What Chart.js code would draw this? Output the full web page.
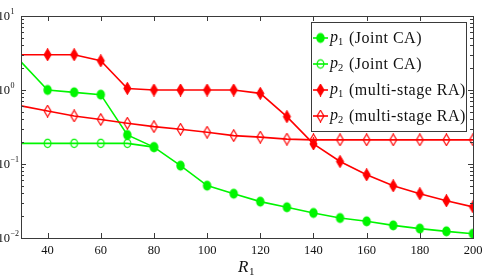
<!DOCTYPE html>
<html>
<head>
<meta charset="utf-8">
<script src="https://cdn.jsdelivr.net/npm/chart.js@4.4.1/dist/chart.umd.min.js"></script>
<style>
  html, body { margin: 0; padding: 0; background: #fff; }
  canvas { display: block; }
</style>
</head>
<body>
<canvas id="chart" width="485" height="277"></canvas>
<script>
// x values (R1)
var R1 = [30, 40, 50, 60, 70, 80, 90, 100, 110, 120, 130, 140, 150, 160, 170, 180, 190, 200];

// series
var p1JointCA = [2.4, 1.0, 0.93, 0.865, 0.247, 0.169, 0.095, 0.051, 0.0397, 0.031, 0.026, 0.0218, 0.0186, 0.0168, 0.0148, 0.0134, 0.0123, 0.0114];
var p2JointCA = [0.19, 0.19, 0.19, 0.19, 0.19, 0.169, null, null, null, null, null, null, null, null, null, null, null, null];
var p1MultiRA = [3.0, 3.0, 3.0, 2.48, 1.05, 1.0, 1.0, 1.0, 1.0, 0.9, 0.436, 0.187, 0.108, 0.0715, 0.0508, 0.0397, 0.0319, 0.0263];
var p2MultiRA = [0.61, 0.52, 0.446, 0.4, 0.356, 0.32, 0.295, 0.269, 0.242, 0.231, 0.217, 0.212, 0.212, 0.212, 0.212, 0.212, 0.212, 0.212];

var legendSub = ['1', '2', '1', '2'];
var legendText = ['(Joint CA)', '(Joint CA)', '(multi-stage RA)', '(multi-stage RA)'];

var xTicks = [40, 60, 80, 100, 120, 140, 160, 180, 200];
var yDecades = [-2, -1, 0, 1];

var GREEN = 'rgb(0, 245, 0)';
var RED = 'rgb(255, 0, 0)';
var SERIF = "'Liberation Serif', 'DejaVu Serif', serif";

// markers (slightly taller than wide, like the original)
function marker(kind, color) {
  var c = document.createElement('canvas');
  var w = 11, h = 13;
  c.width = w; c.height = h;
  var g = c.getContext('2d');
  var cx = w / 2, cy = h / 2;
  g.strokeStyle = color;
  g.fillStyle = color;
  g.lineWidth = 1.2;
  g.beginPath();
  if (kind === 'dot') {
    g.ellipse(cx, cy, 4.2, 5, 0, 0, Math.PI * 2);
    g.fill();
  } else if (kind === 'ring') {
    g.ellipse(cx, cy, 3.4, 4.2, 0, 0, Math.PI * 2);
    g.stroke();
  } else {
    g.moveTo(cx, 0.8);
    g.lineTo(cx + 3.4, cy);
    g.lineTo(cx, h - 0.8);
    g.lineTo(cx - 3.4, cy);
    g.closePath();
    if (kind === 'diamondFilled') g.fill();
    g.stroke();
  }
  return c;
}

var markers = [
  marker('dot', GREEN),
  marker('ring', GREEN),
  marker('diamondFilled', RED),
  marker('diamondOpen', RED)
];

function pts(vals) {
  return R1.map(function (r, i) { return { x: r, y: vals[i] }; });
}

function ds(vals, color, mk, order) {
  return {
    data: pts(vals),
    borderColor: color,
    backgroundColor: color,
    borderWidth: 1.6,
    pointStyle: function (ctx) { return ctx.dataIndex === 0 ? false : mk; },
    order: order,
    spanGaps: false
  };
}

var frame = {
  id: 'frame',
  afterDatasetsDraw: function (chart) {
    var c = chart.ctx, a = chart.chartArea;
    var xs = chart.scales.x, ys = chart.scales.y;
    c.save();
    c.strokeStyle = '#3a3a3a';
    c.lineWidth = 1;
    c.strokeRect(a.left + 0.5, a.top + 0.5, a.right - a.left, a.bottom - a.top);

    // x ticks (bottom and top, pointing inwards)
    c.beginPath();
    xTicks.forEach(function (t) {
      var px = Math.round(xs.getPixelForValue(t)) + 0.5;
      c.moveTo(px, a.bottom); c.lineTo(px, a.bottom - 5);
      c.moveTo(px, a.top); c.lineTo(px, a.top + 5);
    });
    // y ticks, major and minor
    yDecades.forEach(function (d) {
      for (var m = 1; m <= 9; m++) {
        if (d === 1 && m > 1) break;
        var v = m * Math.pow(10, d);
        var py = Math.round(ys.getPixelForValue(v)) + 0.5;
        var len = m === 1 ? 5 : 3;
        c.moveTo(a.left, py); c.lineTo(a.left + len, py);
        c.moveTo(a.right, py); c.lineTo(a.right - len, py);
      }
    });
    c.stroke();

    // x tick labels
    c.fillStyle = '#111';
    c.font = '12.5px ' + SERIF;
    c.textAlign = 'center';
    c.textBaseline = 'alphabetic';
    xTicks.forEach(function (t) {
      c.fillText(String(t), xs.getPixelForValue(t), 254);
    });

    // y tick labels 10^d
    yDecades.forEach(function (d) {
      var py = ys.getPixelForValue(Math.pow(10, d));
      c.font = '12.5px ' + SERIF;
      c.textAlign = 'right';
      c.fillText('10', 10, py + 4);
      c.font = '8px ' + SERIF;
      c.textAlign = 'left';
      c.fillText(d < 0 ? '\u2212' + (-d) : String(d), 10.5, py - 2);
    });

    // x axis title
    c.textAlign = 'left';
    c.font = 'italic 17px ' + SERIF;
    c.fillText('R', 238, 272);
    c.font = '11px ' + SERIF;
    c.fillText('1', 249, 275);

    // legend
    var lx = 311, ly = 22, lw = 155, lh = 109;
    c.fillStyle = '#fff';
    c.fillRect(lx, ly, lw, lh);
    c.strokeStyle = '#3a3a3a';
    c.strokeRect(lx + 0.5, ly + 0.5, lw, lh);
    var rows = [38, 64, 90, 116];
    chart.data.datasets.forEach(function (set, i) {
      var y = rows[i];
      c.strokeStyle = set.borderColor;
      c.lineWidth = 1.6;
      c.beginPath();
      c.moveTo(313, y); c.lineTo(328, y);
      c.stroke();
      var mk = markers[i];
      c.drawImage(mk, 320.5 - mk.width / 2, y - mk.height / 2);
      c.fillStyle = '#111';
      c.font = 'italic 16px ' + SERIF;
      c.fillText('p', 330, y + 4);
      c.font = '10.5px ' + SERIF;
      c.fillText(legendSub[i], 338, y + 7);
      c.font = '16px ' + SERIF;
      c.letterSpacing = '0.5px';
      c.fillText(legendText[i], 349, y + 5);
      c.letterSpacing = '0px';
    });
    c.restore();
  }
};

new Chart(document.getElementById('chart'), {
  type: 'line',
  data: {
    datasets: [
      ds(p1JointCA, GREEN, markers[0], 4),
      ds(p2JointCA, GREEN, markers[1], 3),
      ds(p1MultiRA, RED, markers[2], 2),
      ds(p2MultiRA, RED, markers[3], 1)
    ]
  },
  options: {
    responsive: false,
    animation: false,
    devicePixelRatio: 1,
    layout: { padding: { left: 21, top: 16, right: 12, bottom: 39 } },
    elements: { line: { tension: 0 } },
    plugins: { legend: { display: false }, tooltip: { enabled: false } },
    scales: {
      x: { type: 'linear', min: 30, max: 200, display: false },
      y: { type: 'logarithmic', min: 0.01, max: 10, display: false }
    }
  },
  plugins: [frame]
});
</script>
</body>
</html>
